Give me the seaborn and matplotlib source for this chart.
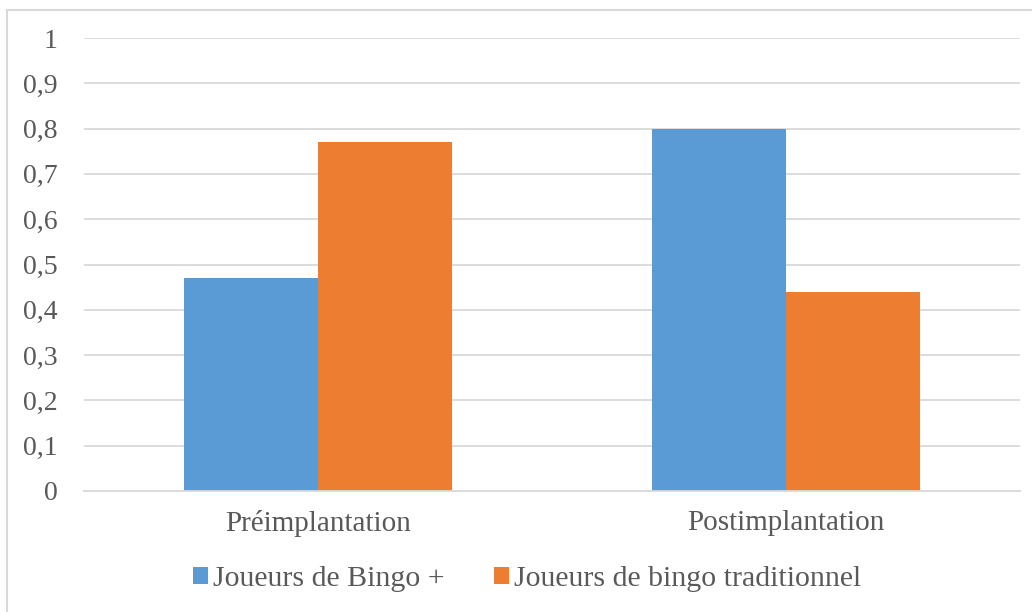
import matplotlib
matplotlib.use("Agg")
import matplotlib.pyplot as plt
import seaborn as sns
import pandas as pd
from matplotlib.patches import Rectangle

categories = ["Préimplantation", "Postimplantation"]
series_names = ["Joueurs de Bingo +", "Joueurs de bingo traditionnel"]
bingo_plus = [0.47, 0.80]
bingo_trad = [0.77, 0.44]
y_ticks = [0, 0.1, 0.2, 0.3, 0.4, 0.5, 0.6, 0.7, 0.8, 0.9, 1]
y_tick_labels = ["0", "0,1", "0,2", "0,3", "0,4", "0,5", "0,6", "0,7", "0,8", "0,9", "1"]
colors = ["#5B9BD5", "#ED7D31"]

df = pd.DataFrame({
    "cat": categories * 2,
    "serie": [series_names[0]] * 2 + [series_names[1]] * 2,
    "val": bingo_plus + bingo_trad,
})

sns.set_style("white")
plt.rcParams["font.family"] = ["Liberation Serif", "DejaVu Serif"]

W, H = 1032, 612
fig = plt.figure(figsize=(W / 100, H / 100), dpi=100)
ax = fig.add_axes([84 / W, 1 - 491 / H, (1020 - 84) / W, (491 - 38) / H])

sns.barplot(data=df, x="cat", y="val", hue="serie", palette=colors,
            width=0.573, gap=0, saturation=1, ax=ax, legend=True,
            edgecolor="none", linewidth=0)

ax.set_xlim(-0.5, 1.5)
ax.set_ylim(0, 1)
ax.set_yticks(y_ticks)
ax.set_yticklabels(y_tick_labels)
ax.yaxis.grid(True, color="#D9D9D9", linewidth=1.3)
ax.set_axisbelow(True)
for s in ["left", "right", "top"]:
    ax.spines[s].set_visible(False)
ax.spines["bottom"].set_color("#D9D9D9")
ax.spines["bottom"].set_linewidth(1.3)
ax.tick_params(axis="both", length=0, labelcolor="#595959")
ax.tick_params(axis="y", pad=19, labelsize=20)
ax.tick_params(axis="x", pad=14, labelsize=21)
ax.set_xlabel("")
ax.set_ylabel("")

handles, labels = ax.get_legend_handles_labels()
ax.get_legend().remove()
fig.legend(handles, labels, loc="center", bbox_to_anchor=(527 / W, 1 - 579 / H),
           ncol=2, frameon=False, fontsize=21.5, labelcolor="#595959",
           handlelength=0.5, handleheight=0.5, handletextpad=0.17,
           columnspacing=1.67, borderaxespad=0, borderpad=0)

fig.patches.append(Rectangle((7 / W, -0.1), 1.2, 1 - 10 / H + 0.1,
                             transform=fig.transFigure, fill=False,
                             edgecolor="#D9D9D9", linewidth=1.5))

fig.savefig("out.png", dpi=100)
